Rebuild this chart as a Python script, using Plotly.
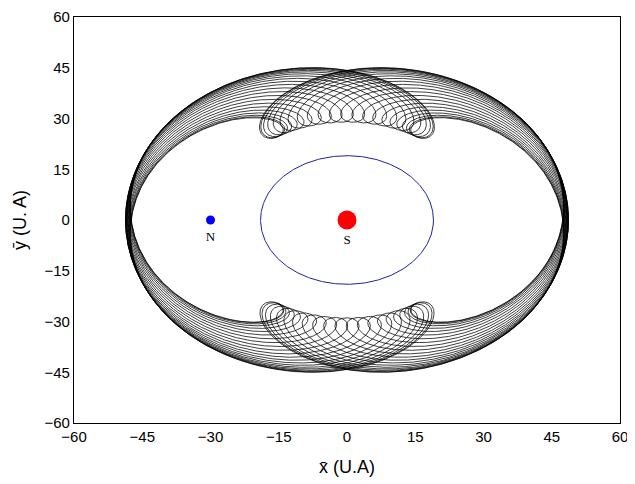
import numpy as np
import plotly.graph_objects as go

# ---- data / parameters ----
orbit_a = 38.8          # semi-major axis of the resonant body (U.A)
orbit_e = 0.255         # eccentricity
n_orbits = 44           # number of orbits drawn
libration_amp_deg = 32  # half-amplitude of perihelion libration
mean_motion_ratio = 1.5 # N / body mean-motion ratio (3:2)
pts_per_orbit = 1500

circle_radius = [19]    # inner (blue) orbit radius

body_names = ["N", "S"]
body_x = [-30, 0]
body_y = [0, 0]
body_colors = ["#0000ff", "#ff0000"]
body_sizes = [9, 19]
label_y = [-5.3, -6.2]

tick_vals = [-60, -45, -30, -15, 0, 15, 30, 45, 60]

# ---- trajectory in the rotating frame ----
M = np.linspace(0, 2 * np.pi * n_orbits, n_orbits * pts_per_orbit)
E = M.copy()
for _ in range(10):
    E = E - (E - orbit_e * np.sin(E) - M) / (1 - orbit_e * np.cos(E))
f = 2 * np.arctan2(np.sqrt(1 + orbit_e) * np.sin(E / 2), np.sqrt(1 - orbit_e) * np.cos(E / 2))
r = orbit_a * (1 - orbit_e * np.cos(E))
t = M / (2 * np.pi)
varpi = np.pi / 2 + np.radians(libration_amp_deg) * np.sin(np.pi * (t / n_orbits - 0.5))
alpha = varpi + f - mean_motion_ratio * M + np.pi
ox = r * np.cos(alpha)
oy = r * np.sin(alpha)

th = np.linspace(0, 2 * np.pi, 400)
cx = circle_radius[0] * np.cos(th)
cy = circle_radius[0] * np.sin(th)

fig = go.Figure()
fig.add_trace(go.Scatter(x=ox, y=oy, mode="lines", line=dict(color="black", width=0.75),
                         hoverinfo="skip", showlegend=False))
fig.add_trace(go.Scatter(x=cx, y=cy, mode="lines", line=dict(color="#22229a", width=1),
                         hoverinfo="skip", showlegend=False))
fig.add_trace(go.Scatter(x=body_x, y=body_y, mode="markers",
                         marker=dict(color=body_colors, size=body_sizes, opacity=1, line=dict(width=0)),
                         showlegend=False))
fig.add_trace(go.Scatter(x=body_x, y=label_y, mode="text", text=body_names,
                         textfont=dict(family="Liberation Serif", size=13, color="black"),
                         showlegend=False))

axis_common = dict(range=[-60, 60], tickvals=tick_vals, showgrid=False, zeroline=False,
                   showline=True, linecolor="black", linewidth=1.3, mirror=True, automargin=False,
                   ticks="", tickfont=dict(family="Liberation Sans", size=15, color="black"))
fig.update_xaxes(**axis_common, title=dict(text="x\u0304 (U.A)", font=dict(family="Liberation Sans", size=18, color="black"), standoff=16))
fig.update_yaxes(**axis_common, title=dict(text="y\u0304 (U. A)", font=dict(family="Liberation Sans", size=18, color="black"), standoff=13))

# page body has an 8px default margin, so the figure is offset by 8px
fig.update_layout(width=627, height=476, margin=dict(l=66, r=15, t=9, b=61),
                  plot_bgcolor="white", paper_bgcolor="white")
fig.write_html("out.html")
